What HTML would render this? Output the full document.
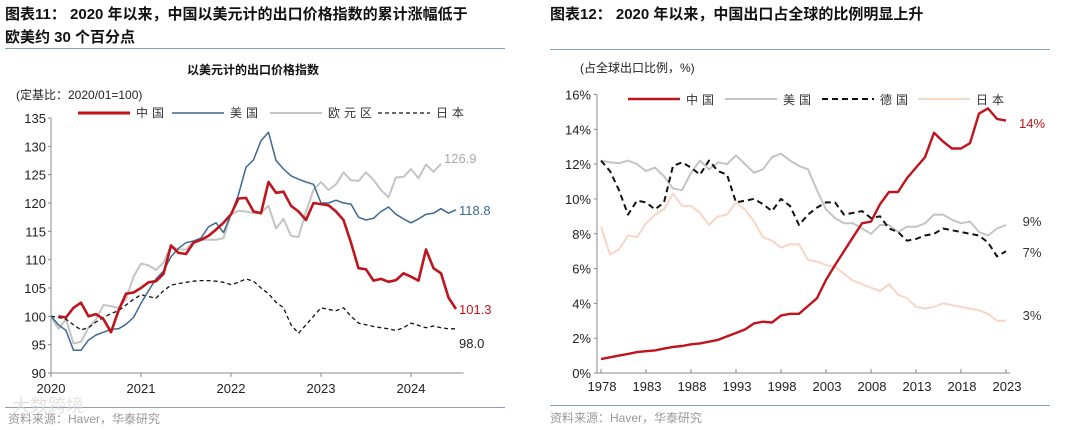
<!DOCTYPE html>
<html><head><meta charset="utf-8">
<style>
html,body{margin:0;padding:0;background:#fff;}
svg{display:block;font-family:"Liberation Sans","Noto Sans CJK SC",sans-serif;}
</style></head>
<body>
<svg id="root" width="1080" height="430" viewBox="0 0 1080 430">
  <g>
    <text x="5" y="19" font-size="15" font-weight="bold" fill="#111">图表11：  2020 年以来，中国以美元计的出口价格指数的累计涨幅低于</text>
    <text x="5" y="42" font-size="15" font-weight="bold" fill="#111">欧美约 30 个百分点</text>
    <line x1="5" y1="48.5" x2="505" y2="48.5" stroke="#8aa0b8" stroke-width="1"/>
  </g>
  <g>
    <text x="550" y="19" font-size="15" font-weight="bold" fill="#111">图表12：  2020 年以来，中国出口占全球的比例明显上升</text>
    <line x1="550" y1="49.5" x2="1050" y2="49.5" stroke="#8aa0b8" stroke-width="1"/>
  </g>
  <text x="253" y="74" font-size="12" font-weight="bold" text-anchor="middle" fill="#111">以美元计的出口价格指数</text>
  <text x="16" y="99" font-size="12" fill="#222">(定基比：2020/01=100)</text>
  <text x="580" y="72" font-size="12" fill="#222">(占全球出口比例，%)</text>

  <g id="left"></g>
  <g id="right"></g>

  <line x1="5" y1="407.5" x2="505" y2="407.5" stroke="#8aa0b8" stroke-width="1"/>
  <line x1="550" y1="405.5" x2="1050" y2="405.5" stroke="#8aa0b8" stroke-width="1"/>
  <text x="8" y="423" font-size="12" fill="#999">资料来源：Haver，华泰研究</text>
  <text x="12" y="412" font-size="18" fill="#ddd" opacity="0.8">大数跨境</text>
  <text x="550" y="422" font-size="12" fill="#999">资料来源：Haver，华泰研究</text>
</svg>
<script>
// ---------- Left chart data (monthly, index 0 = 2020/01) ----------
const leftYearLabels = ["2020","2021","2022","2023","2024"];
const leftYTicks = [90,95,100,105,110,115,120,125,130,135];
const chinaIdx = [null,100,99.8,101.5,102.4,100,100.4,99.5,97.2,101,104,104.2,105,106,106.2,107.5,112.5,111.2,111,113,113.5,114.2,115.3,116.5,118,120.8,120.9,118.5,118.2,123.7,121.8,122,119.5,118.5,117,120,119.8,119.6,118.5,117,113,108.5,108.3,106.3,106.6,106.1,106.4,107.6,107,106.3,111.8,108.5,107.6,103.3,101.3];
const usIdx = [100,98.5,97.5,94,94,95.8,96.7,97.2,97.7,97.8,98.6,99.8,102.3,104.5,106.6,108,110.5,112,113,113.3,113.8,115.8,116.5,114.8,118,121.5,126.3,127.6,131,132.5,127.5,126,124.8,124.2,123.7,123.3,120,120,120.5,120,119.8,117.5,117,117.3,118.5,119.3,118,117.2,116.5,117.2,118,118.2,119,118.2,118.8];
const euroIdx = [100,97.8,99.5,95.2,95.5,98,99.5,102,101.8,101.5,103,107,109.3,109,108.2,109.5,112.5,111.8,111.8,113.2,113.5,113.5,113.5,113.8,118,118.6,118.5,118.2,118.3,119.5,115.5,117.2,114.2,114,118.5,122.3,123.7,122.3,123.3,125.4,124,123.9,125.4,124.1,122.3,121,124.5,124.6,126,124.4,126.8,125.5,126.9];
const japanIdx = [100,99.8,99.5,98.5,97.6,98,99,99.8,100.5,101,102,103,103.8,103.5,103.2,104.5,105.5,105.8,106,106.2,106.3,106.3,106.2,106,105.6,106,106.6,106.2,105,104,102.5,101.5,98.5,97,98.5,100,101.5,101.2,101,101.5,100,98.8,98.5,98.2,98,97.8,97.5,98,98.8,98.4,98,98.3,98,97.8,97.8];
const leftEndLabels = ["101.3","118.8","126.9","98.0"];

// ---------- Right chart data (annual 1978-2023) ----------
const rightYearLabels = ["1978","1983","1988","1993","1998","2003","2008","2013","2018","2023"];
const rightYTicks = [0,2,4,6,8,10,12,14,16];
const chinaShare = [0.8,0.9,1.0,1.1,1.2,1.25,1.3,1.4,1.5,1.55,1.65,1.7,1.8,1.9,2.1,2.3,2.5,2.85,2.95,2.9,3.3,3.4,3.4,3.85,4.3,5.35,6.2,7.0,7.8,8.6,8.7,9.7,10.4,10.4,11.2,11.8,12.4,13.8,13.3,12.9,12.9,13.2,14.9,15.2,14.6,14.5];
const usShare = [12.2,12.1,12.05,12.2,12.0,11.6,11.8,11.3,10.6,10.5,11.5,12.2,11.7,12.1,12.0,12.5,12.0,11.5,11.7,12.4,12.6,12.2,11.9,11.7,10.5,9.4,8.9,8.6,8.6,8.3,8.0,8.5,8.5,8.1,8.4,8.4,8.6,9.1,9.1,8.8,8.6,8.7,8.1,7.9,8.3,8.5];
const germanyShare = [12.2,11.6,10.5,9.1,9.9,9.8,9.4,9.8,11.9,12.1,11.8,11.4,12.2,11.6,11.4,9.8,9.9,10.0,9.7,9.3,10.0,9.6,8.5,9.1,9.5,9.8,9.8,9.1,9.2,9.3,8.9,9.0,8.3,8.1,7.6,7.7,7.9,8.0,8.3,8.2,8.1,8.0,7.9,7.5,6.7,7.0];
const japanShare = [8.4,6.8,7.1,7.9,7.8,8.6,9.1,9.4,10.3,9.6,9.6,9.2,8.5,9.0,9.1,9.8,9.4,8.7,7.8,7.6,7.2,7.4,7.4,6.5,6.4,6.2,6.1,5.7,5.3,5.1,4.9,4.7,5.1,4.5,4.3,3.8,3.7,3.8,4.0,3.9,3.8,3.7,3.6,3.4,3.0,3.0];
const rightEndLabels = ["14%","9%","7%","3%"];

const NS = "http://www.w3.org/2000/svg";
function mk(tag, attrs, parent){ const e=document.createElementNS(NS,tag); for(const k in attrs) e.setAttribute(k,attrs[k]); parent.appendChild(e); return e; }

// ---------- Left chart ----------
(function(){
  const g = document.getElementById('left');
  const x0=51, pxPerMonth=7.5, y0=373, yTop=118, vMin=90, vMax=135;
  const xS = i => x0 + i*pxPerMonth;
  const yS = v => y0 - (v-vMin)/(vMax-vMin)*(y0-yTop);
  let a = mk('line',{x1:x0,y1:yTop,x2:x0,y2:y0,stroke:'#888','stroke-width':1},g);
   
  a = mk('line',{x1:x0,y1:y0,x2:xS(55),y2:y0,stroke:'#888','stroke-width':1},g);
   
  leftYTicks.forEach(v=>{
    const t = mk('text',{x:x0-5,y:yS(v)+5,'font-size':13,'text-anchor':'end',fill:'#222'},g);
    t.textContent=v;
     
    const tk = mk('line',{x1:x0-3,y1:yS(v),x2:x0,y2:yS(v),stroke:'#888'},g);
     
  });
  leftYearLabels.forEach((lab,k)=>{
    const x = xS(k*12);
    const t = mk('text',{x:x,y:y0+20,'font-size':13,'text-anchor':'middle',fill:'#222'},g);
    t.textContent=lab;
     
    const tk = mk('line',{x1:x,y1:y0,x2:x,y2:y0+4,stroke:'#888'},g);
     
  });
  function line(arr, color, w, dash, name){
    let d='';
    arr.forEach((v,i)=>{ if(v===null) return; d += (d?'L':'M')+xS(i).toFixed(1)+','+yS(v).toFixed(1); });
    const p = mk('path',{d:d,fill:'none',stroke:color,'stroke-width':w,'stroke-linejoin':'round'},g);
    if(dash) p.setAttribute('stroke-dasharray',dash);
     
    return arr;
  }
  line(euroIdx,'#c4c4c4',2,null,'line-eurozone');
  line(japanIdx,'#111',1.3,'4,3','line-japan');
  line(usIdx,'#3d6a93',1.5,null,'line-us');
  line(chinaIdx,'#c0141c',2.6,null,'line-china');
  const ends = [[chinaIdx,'#c0141c',leftEndLabels[0],'end-label-china',0],[usIdx,'#3d6a93',leftEndLabels[1],'end-label-us',0],[euroIdx,'#aaa',leftEndLabels[2],'end-label-eurozone',-6],[japanIdx,'#222',leftEndLabels[3],'end-label-japan',14]];
  ends.forEach(([arr,c,lab,nm,dy])=>{
    const i=arr.length-1;
    const t = mk('text',{x:xS(i)+3,y:yS(arr[i])+5+dy,'font-size':13,fill:c},g);
    t.textContent=lab;
     
  });
  const leg=[['中国','#c0141c',3,null,78],['美国','#3d6a93',1.5,null,172],['欧元区','#c4c4c4',2,null,270],['日本','#111',1.3,'4,3',378]];
  leg.forEach(([lab,c,w,dash,x])=>{
    const l = mk('line',{x1:x,y1:113,x2:x+52,y2:113,stroke:c,'stroke-width':w},g);
    if(dash) l.setAttribute('stroke-dasharray',dash);
     
    const t = mk('text',{x:x+58,y:117,'font-size':12,fill:'#333','letter-spacing':'4'},g);
    t.textContent=lab;
     
  });
})();

// ---------- Right chart ----------
(function(){
  const g = document.getElementById('right');
  const xAxis=597, x0=601, pxPerYear=9, y0=373, yTop=94.5, vMax=16;
  const xS = i => x0 + i*pxPerYear;
  const yS = v => y0 - v/vMax*(y0-yTop);
  let a = mk('line',{x1:xAxis,y1:yTop,x2:xAxis,y2:y0,stroke:'#888'},g);
   
  a = mk('line',{x1:xAxis,y1:y0,x2:1010,y2:y0,stroke:'#888'},g);
   
  rightYTicks.forEach(v=>{
    const t = mk('text',{x:xAxis-6,y:yS(v)+5,'font-size':13,'text-anchor':'end',fill:'#222'},g);
    t.textContent=v+'%';
     
    const tk = mk('line',{x1:xAxis-3,y1:yS(v),x2:xAxis,y2:yS(v),stroke:'#888'},g);
     
  });
  rightYearLabels.forEach((lab,k)=>{
    const x = xS(k*5);
    const t = mk('text',{x:x+1,y:y0+18,'font-size':13,'text-anchor':'middle',fill:'#222'},g);
    t.textContent=lab;
     
    const tk = mk('line',{x1:x,y1:y0,x2:x,y2:y0-4,stroke:'#888'},g);
     
  });
  function line(arr,color,w,dash,name){
    const d = arr.map((v,i)=>(i?'L':'M')+xS(i).toFixed(1)+','+yS(v).toFixed(1)).join('');
    const p = mk('path',{d:d,fill:'none',stroke:color,'stroke-width':w,'stroke-linejoin':'round'},g);
    if(dash) p.setAttribute('stroke-dasharray',dash);
     
  }
  line(japanShare,'#f8d6c6',2,null,'line-japan-share');
  line(usShare,'#c4c4c4',2,null,'line-us-share');
  line(germanyShare,'#111',2,'6,4','line-germany-share');
  line(chinaShare,'#c0141c',2.4,null,'line-china-share');
  const ends=[[rightEndLabels[0],'#c0141c',123,'end-label-china-share'],[rightEndLabels[1],'#333',221,'end-label-us-share'],[rightEndLabels[2],'#333',252,'end-label-germany-share'],[rightEndLabels[3],'#333',315,'end-label-japan-share']];
  ends.forEach(([lab,c,y,nm])=>{
    const t = mk('text',{x:1032,y:y+5,'font-size':13,fill:c,'text-anchor':'middle'},g);
    t.textContent=lab;
     
  });
  const leg=[['中国','#c0141c',2.6,null,628],['美国','#c4c4c4',2,null,725],['德国','#111',2,'6,4',822],['日本','#f8d6c6',2,null,918]];
  leg.forEach(([lab,c,w,dash,x])=>{
    const l = mk('line',{x1:x,y1:99,x2:x+52,y2:99,stroke:c,'stroke-width':w},g);
    if(dash) l.setAttribute('stroke-dasharray',dash);
     
    const t = mk('text',{x:x+58,y:104,'font-size':12,fill:'#333','letter-spacing':'4'},g);
    t.textContent=lab;
     
  });
})();
</script>
</body></html>
